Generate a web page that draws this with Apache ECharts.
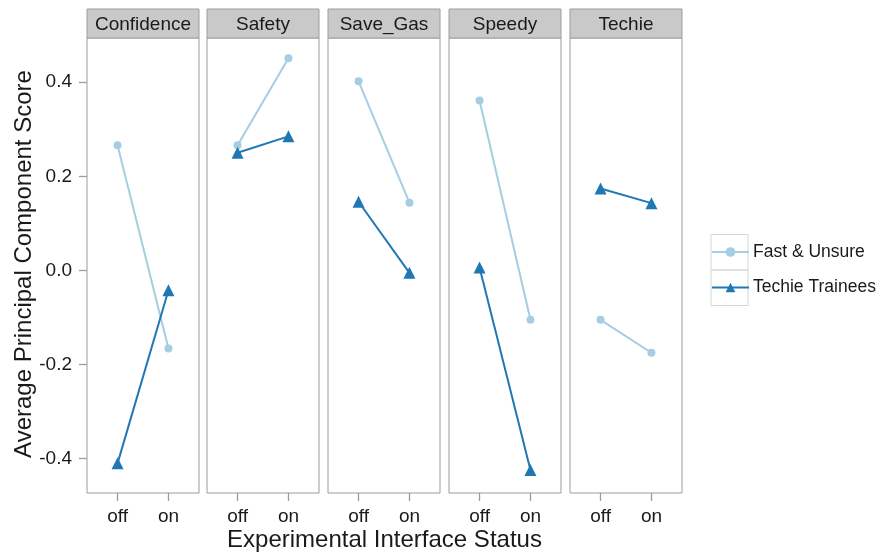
<!DOCTYPE html>
<html>
<head>
<meta charset="utf-8">
<script src="https://cdn.jsdelivr.net/npm/echarts@6/dist/echarts.min.js"></script>
<style>
html,body{margin:0;padding:0;background:#fff;}
#chart{width:896px;height:554px;}
</style>
</head>
<body>
<div id="chart"></div>
<script>
// ---- data ----
var facets = ['Confidence', 'Safety', 'Save_Gas', 'Speedy', 'Techie'];
var statusLevels = ['off', 'on'];
var yTicks = [-0.4, -0.2, 0.0, 0.2, 0.4];
var seriesNames = ['Fast & Unsure', 'Techie Trainees'];
var fastUnsure     = [[0.266, -0.166], [0.266, 0.451], [0.402, 0.144], [0.361, -0.105], [-0.105, -0.175]];
var techieTrainees = [[-0.410, -0.042], [0.250, 0.285], [0.146, -0.005], [0.006, -0.424], [0.174, 0.143]];

// ---- layout ----
var FONT = 'Liberation Sans, Arial, Helvetica, sans-serif';
var panelLefts = [87, 207, 328, 449, 570];
var panelW = 112;
var panelTop = 38;
var panelH = 455;
var stripTop = 9;
var stripH = 29;
var colors = ['#a6cee3', '#1f78b4'];
var borderCol = '#9c9c9c';

var grids = [], xAxes = [], yAxes = [], series = [], graphics = [];
facets.forEach(function (f, i) {
  grids.push({
    left: panelLefts[i], top: panelTop, width: panelW, height: panelH,
    show: true, borderColor: borderCol, borderWidth: 1, backgroundColor: '#fff'
  });
  xAxes.push({
    gridIndex: i, type: 'value', min: 0.4, max: 2.6, position: 'bottom',
    axisLine: {show: false, onZero: false}, splitLine: {show: false},
    axisTick: {show: true, customValues: [1, 2], length: 8, lineStyle: {color: borderCol, width: 1.3}},
    axisLabel: {show: true, customValues: [1, 2], margin: 14, fontSize: 19, color: '#1a1a1a', fontFamily: FONT,
      formatter: function (v) { return statusLevels[Math.round(v) - 1]; }}
  });
  yAxes.push({
    gridIndex: i, type: 'value', min: -0.473, max: 0.494, position: 'left',
    axisLine: {show: false, onZero: false}, splitLine: {show: false},
    axisTick: {show: i === 0, customValues: yTicks, length: 8, lineStyle: {color: borderCol, width: 1.3}},
    axisLabel: {show: i === 0, customValues: yTicks, margin: 15, fontSize: 19, color: '#1a1a1a', fontFamily: FONT,
      formatter: function (v) { return v.toFixed(1); }}
  });
  [fastUnsure, techieTrainees].forEach(function (arr, s) {
    series.push({
      type: 'line', name: seriesNames[s], xAxisIndex: i, yAxisIndex: i,
      data: statusLevels.map(function (st, k) { return [k + 1, arr[i][k]]; }),
      symbol: s === 0 ? 'circle' : 'triangle',
      symbolSize: s === 0 ? 8 : 12,
      lineStyle: {color: colors[s], width: 2},
      itemStyle: {color: colors[s]},
      emphasis: {disabled: true},
      silent: true, animation: false, z: s === 0 ? 2 : 3
    });
  });
  graphics.push({
    type: 'rect', shape: {x: panelLefts[i], y: stripTop, width: panelW, height: stripH},
    style: {fill: '#c9c9c9', stroke: borderCol, lineWidth: 1}
  });
  graphics.push({
    type: 'text', x: panelLefts[i] + panelW / 2, y: stripTop + stripH / 2 + 1,
    style: {text: f, fontSize: 19, fontFamily: FONT, fill: '#1a1a1a', align: 'center', verticalAlign: 'middle'}
  });
});

// axis titles
graphics.push({
  type: 'text', x: 24, y: 264, rotation: Math.PI / 2,
  style: {text: 'Average Principal Component Score', fontSize: 24, fontFamily: FONT, fill: '#1a1a1a', align: 'center', verticalAlign: 'middle'}
});
graphics.push({
  type: 'text', x: 384.5, y: 540,
  style: {text: 'Experimental Interface Status', fontSize: 24, fontFamily: FONT, fill: '#1a1a1a', align: 'center', verticalAlign: 'middle'}
});
// legend key boxes
graphics.push({type: 'rect', shape: {x: 711, y: 234.5, width: 37, height: 35.5}, style: {fill: 'none', stroke: '#d6d6d6', lineWidth: 1}});
graphics.push({type: 'rect', shape: {x: 711, y: 270, width: 37, height: 35.5}, style: {fill: 'none', stroke: '#d6d6d6', lineWidth: 1}});

var chart = echarts.init(document.getElementById('chart'), null, {renderer: 'canvas'});
chart.setOption({
  animation: false,
  backgroundColor: '#fff',
  grid: grids,
  xAxis: xAxes,
  yAxis: yAxes,
  series: series,
  legend: {
    data: seriesNames, orient: 'vertical', left: 711, top: 242, itemWidth: 37, itemHeight: 12,
    itemGap: 15.5, padding: 0,
    textStyle: {fontSize: 17.5, fontFamily: FONT, color: '#1a1a1a', lineHeight: 20, padding: [0, 0, 0, -1]},
    selectedMode: false
  },
  graphic: graphics
});
</script>
</body>
</html>
